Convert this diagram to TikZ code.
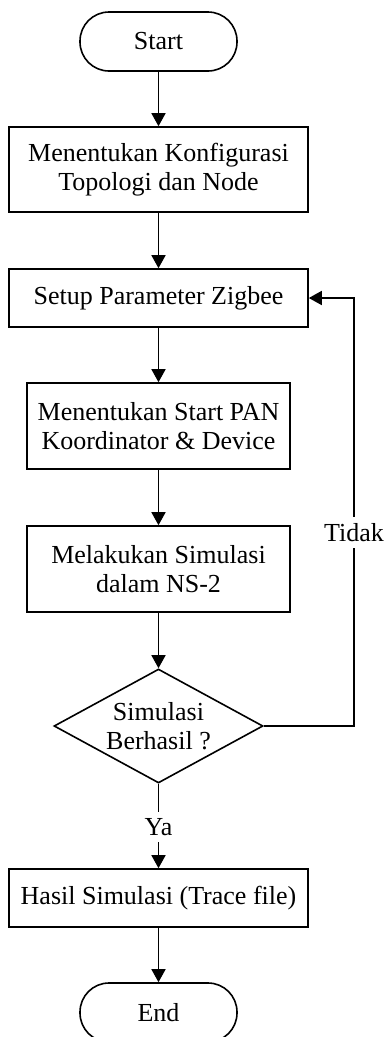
\documentclass[tikz,border=0pt]{standalone}
\usepackage{fontspec}
\setmainfont{Liberation Serif}
\usetikzlibrary{arrows.meta,shapes.geometric}
\begin{document}
\begin{tikzpicture}[x=1pt,y=-1pt,
  every node/.style={font=\fontsize{26}{29}\selectfont, inner sep=0pt, align=center},
  line/.style={line width=1.6pt},
  arr/.style={line width=1.6pt, -{Triangle[length=13pt,width=14pt]}},
  proc/.style={draw, line width=1.6pt},
  term/.style={draw, line width=1.6pt, rounded corners=29pt, minimum width=157pt, minimum height=59pt},
  dec/.style={draw, line width=1.6pt, shape=diamond, minimum width=209pt, minimum height=114pt}]
\useasboundingbox (0,0) rectangle (386,1037);
\node[term] (start) at (158.5,41.5) {Start};
\node[proc, minimum width=299pt, minimum height=85pt] (b1) at (158.5,169.5) {Menentukan Konfigurasi\\Topologi dan Node};
\node[proc, minimum width=299pt, minimum height=58pt] (b2) at (158.5,298) {Setup Parameter Zigbee};
\node[proc, minimum width=263pt, minimum height=86pt] (b3) at (158.5,426) {Menentukan Start PAN\\Koordinator \& Device};
\node[proc, minimum width=263pt, minimum height=86pt] (b4) at (158.5,569) {Melakukan Simulasi\\dalam NS-2};
\node[dec, label={[align=center]center:Simulasi\\Berhasil ?}] (d) at (158.5,726) {};
\node[minimum height=30pt] (ya) at (158.5,827) {Ya};
\node[proc, minimum width=299pt, minimum height=58pt] (b5) at (158.5,898) {Hasil Simulasi (Trace file)};
\node[term] (end) at (158.5,1012.5) {End};
\node[minimum height=31pt] (tidak) at (354,532.5) {Tidak};
\draw[arr] (start) -- (b1);
\draw[arr] (b1) -- (b2);
\draw[arr] (b2) -- (b3);
\draw[arr] (b3) -- (b4);
\draw[arr] (b4) -- (d);
\draw[line] (d.south) -- (ya.north);
\draw[arr] (ya.south) -- (b5.north);
\draw[arr] (b5) -- (end);
\draw[line] (d.east) -| (tidak.south);
\draw[arr] (tidak.north) |- (b2.east);
\end{tikzpicture}
\end{document}
